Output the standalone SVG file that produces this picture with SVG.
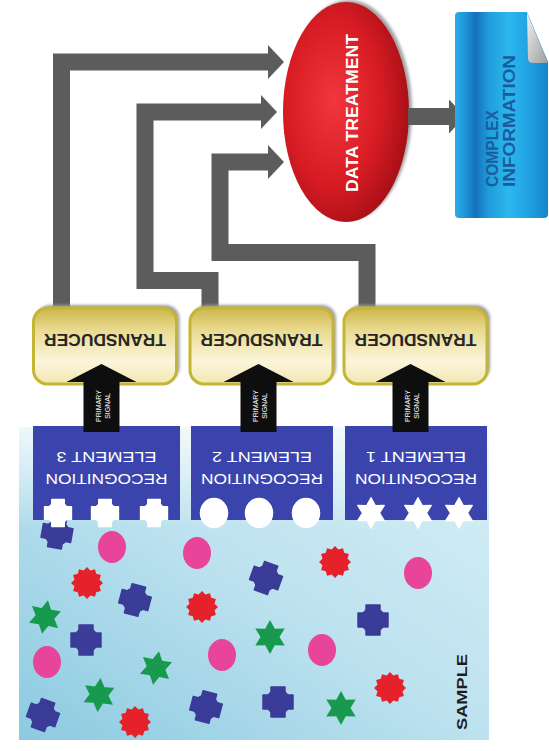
<svg xmlns="http://www.w3.org/2000/svg" width="549" height="751" viewBox="0 0 549 751">
  <defs>
    <style>
      .lbl { font-family: "Liberation Sans", Arial, sans-serif; }
      .conn { fill: none; stroke: #5c5c5c; stroke-width: 17; stroke-linejoin: miter; marker-end: url(#grayHead); }
      .trans-box { fill: url(#transGrad); stroke: #c4b634; stroke-width: 3; }
      .trans-shadow { fill: #9d9d9d; filter: url(#soft); }
      .trans-txt { font-size: 17px; font-weight: bold; fill: #262626; }
      .rec-txt { font-size: 15px; fill: #ffffff; }
      .rec-box { fill: #3b44ad; }
      .sig { fill: #0e0e0e; }
      .sig-txt { font-size: 7px; fill: #ffffff; }
      .mol-blue { fill: #3b3b98; stroke: #3b3b98; stroke-width: 1.5; stroke-linejoin: round; }
      .mol-red { fill: #e5222b; }
      .mol-green { fill: #189a4e; }
      .mol-pink { fill: #e8459a; }
      .site { fill: #ffffff; stroke: #ffffff; stroke-width: 1.5; stroke-linejoin: round; }
    </style>
    <linearGradient id="sampleGrad" x1="0" y1="1" x2="1" y2="0">
      <stop offset="0" stop-color="#8ccae1"/>
      <stop offset="0.5" stop-color="#bde2ef"/>
      <stop offset="1" stop-color="#d6eff6"/>
    </linearGradient>
    <linearGradient id="sampleTop" x1="0" y1="0" x2="0" y2="1">
      <stop offset="0" stop-color="#ffffff" stop-opacity="0.75"/>
      <stop offset="1" stop-color="#ffffff" stop-opacity="0"/>
    </linearGradient>
    <linearGradient id="transGrad" x1="0" y1="0" x2="0" y2="1">
      <stop offset="0" stop-color="#cdb64a"/>
      <stop offset="0.3" stop-color="#eadb92"/>
      <stop offset="0.7" stop-color="#fbf5dc"/>
      <stop offset="1" stop-color="#f2e6b0"/>
    </linearGradient>
    <radialGradient id="redGrad" cx="0.4" cy="0.45" r="0.62">
      <stop offset="0" stop-color="#f2363e"/>
      <stop offset="0.6" stop-color="#d81c24"/>
      <stop offset="1" stop-color="#a60f16"/>
    </radialGradient>
    <linearGradient id="docGrad" x1="0" y1="0" x2="1" y2="0">
      <stop offset="0" stop-color="#29b0e8"/>
      <stop offset="0.12" stop-color="#1d92d4"/>
      <stop offset="0.22" stop-color="#1770bc"/>
      <stop offset="0.36" stop-color="#1f9cda"/>
      <stop offset="0.58" stop-color="#2cb8ee"/>
      <stop offset="0.82" stop-color="#1f9ede"/>
      <stop offset="1" stop-color="#1684cc"/>
    </linearGradient>
    <linearGradient id="foldGrad" x1="0" y1="0" x2="1" y2="1">
      <stop offset="0" stop-color="#f2f2f2"/>
      <stop offset="1" stop-color="#9c9c9c"/>
    </linearGradient>
    <filter id="soft" x="-20%" y="-20%" width="140%" height="140%">
      <feGaussianBlur stdDeviation="1.5"/>
    </filter>
    <marker id="grayHead" markerUnits="userSpaceOnUse" viewBox="0 0 16 34" markerWidth="16" markerHeight="34" refX="0" refY="17" orient="auto">
      <path d="M0,0 L16,17 L0,34 Z" fill="#5c5c5c"/>
    </marker>
    <!-- molecule and binding-site shapes, centred on 0,0 -->
    <g id="cog">
      <path d="M-7,-15H7V-7H15V7H7V15H-7V7H-15V-7H-7Z"/>
      <circle r="12"/>
    </g>
    <path id="burst" d="M16,0 L12.56,3.36 L13.86,8 L9.19,9.19 L8,13.86 L3.36,12.56 L0,16 L-3.36,12.56 L-8,13.86 L-9.19,9.19 L-13.86,8 L-12.56,3.36 L-16,0 L-12.56,-3.36 L-13.86,-8 L-9.19,-9.19 L-8,-13.86 L-3.36,-12.56 L0,-16 L3.36,-12.56 L8,-13.86 L9.19,-9.19 L13.86,-8 L12.56,-3.36 Z"/>
    <path id="star6" d="M0,-17 L4.75,-8.23 L14.72,-8.5 L9.5,0 L14.72,8.5 L4.75,8.23 L0,17 L-4.75,8.23 L-14.72,8.5 L-9.5,0 L-14.72,-8.5 L-4.75,-8.23 Z"/>
    <path id="signalArrow" d="M-18,68 V18 H-35 L0,0 L35,18 H18 V68 Z"/>
  </defs>

  <!-- sample solution with analytes -->
  <g id="sample">
    <rect x="19" y="427" width="470" height="313" fill="url(#sampleGrad)"/>
    <rect x="19" y="427" width="470" height="100" fill="url(#sampleTop)"/>
    <use href="#cog" class="mol-blue" transform="translate(57,533) rotate(10)"/>
    <ellipse class="mol-pink" cx="112" cy="547" rx="14" ry="16"/>
    <ellipse class="mol-pink" cx="197" cy="553" rx="14" ry="16"/>
    <use href="#burst" class="mol-red" transform="translate(335,562)"/>
    <ellipse class="mol-pink" cx="418" cy="573" rx="14" ry="16"/>
    <use href="#burst" class="mol-red" transform="translate(87,583)"/>
    <use href="#cog" class="mol-blue" transform="translate(266,578) rotate(20)"/>
    <use href="#cog" class="mol-blue" transform="translate(135,600) rotate(15)"/>
    <use href="#burst" class="mol-red" transform="translate(202,607)"/>
    <use href="#star6" class="mol-green" transform="translate(45,617) rotate(10)"/>
    <use href="#cog" class="mol-blue" transform="translate(373,620)"/>
    <use href="#cog" class="mol-blue" transform="translate(86,640)"/>
    <use href="#star6" class="mol-green" transform="translate(270,637)"/>
    <ellipse class="mol-pink" cx="47" cy="662" rx="14" ry="16"/>
    <ellipse class="mol-pink" cx="222" cy="655" rx="14" ry="16"/>
    <ellipse class="mol-pink" cx="322" cy="650" rx="14" ry="16"/>
    <use href="#star6" class="mol-green" transform="translate(156,668) rotate(10)"/>
    <use href="#star6" class="mol-green" transform="translate(99,695) rotate(5)"/>
    <use href="#burst" class="mol-red" transform="translate(390,688)"/>
    <use href="#cog" class="mol-blue" transform="translate(206,707) rotate(15)"/>
    <use href="#cog" class="mol-blue" transform="translate(278,702)"/>
    <use href="#star6" class="mol-green" transform="translate(341,708)"/>
    <use href="#cog" class="mol-blue" transform="translate(43,715) rotate(20)"/>
    <use href="#burst" class="mol-red" transform="translate(135,722)"/>
    <text class="lbl" x="0" y="0" transform="translate(467,730) rotate(-90)" font-size="15" font-weight="bold" fill="#1e1e1e" textLength="76" lengthAdjust="spacingAndGlyphs">SAMPLE</text>
  </g>

  <!-- recognition elements with their binding sites -->
  <g id="recognition-3">
    <rect class="rec-box" x="33" y="426" width="147" height="94"/>
    <text class="lbl rec-txt" x="106.5" y="457" text-anchor="middle" dominant-baseline="central" textLength="100" lengthAdjust="spacingAndGlyphs" transform="rotate(180 106.5 457)">ELEMENT 3</text>
    <text class="lbl rec-txt" x="106.5" y="479" text-anchor="middle" dominant-baseline="central" textLength="122" lengthAdjust="spacingAndGlyphs" transform="rotate(180 106.5 479)">RECOGNITION</text>
    <use href="#cog" class="site" transform="translate(58,513) scale(0.9)"/>
    <use href="#cog" class="site" transform="translate(105,513) scale(0.9)"/>
    <use href="#cog" class="site" transform="translate(154,513) scale(0.9)"/>
  </g>
  <g id="recognition-2">
    <rect class="rec-box" x="191" y="426" width="142" height="94"/>
    <text class="lbl rec-txt" x="262" y="457" text-anchor="middle" dominant-baseline="central" textLength="100" lengthAdjust="spacingAndGlyphs" transform="rotate(180 262 457)">ELEMENT 2</text>
    <text class="lbl rec-txt" x="262" y="479" text-anchor="middle" dominant-baseline="central" textLength="122" lengthAdjust="spacingAndGlyphs" transform="rotate(180 262 479)">RECOGNITION</text>
    <ellipse class="site" cx="214" cy="513" rx="13.5" ry="14.5"/>
    <ellipse class="site" cx="259" cy="513" rx="13.5" ry="14.5"/>
    <ellipse class="site" cx="306" cy="513" rx="13.5" ry="14.5"/>
  </g>
  <g id="recognition-1">
    <rect class="rec-box" x="345" y="426" width="142" height="94"/>
    <text class="lbl rec-txt" x="416" y="457" text-anchor="middle" dominant-baseline="central" textLength="100" lengthAdjust="spacingAndGlyphs" transform="rotate(180 416 457)">ELEMENT 1</text>
    <text class="lbl rec-txt" x="416" y="479" text-anchor="middle" dominant-baseline="central" textLength="122" lengthAdjust="spacingAndGlyphs" transform="rotate(180 416 479)">RECOGNITION</text>
    <use href="#star6" class="site" transform="translate(371,513) scale(0.9)"/>
    <use href="#star6" class="site" transform="translate(418,513) scale(0.9)"/>
    <use href="#star6" class="site" transform="translate(459,513) scale(0.9)"/>
  </g>

  <!-- transducer outputs routed to data treatment -->
  <g id="connectors">
    <polyline class="conn" points="61.5,309 61.5,62 268,62"/>
    <polyline class="conn" points="210,309 210,280.5 145,280.5 145,112 261,112"/>
    <polyline class="conn" points="367,309 367,252.5 220,252.5 220,162 268,162"/>
  </g>

  <!-- transducers -->
  <g id="transducer-3">
    <rect class="trans-shadow" x="36.5" y="305" width="143" height="76" rx="14"/>
    <rect class="trans-box" x="33.5" y="308" width="143" height="76" rx="14"/>
    <text class="lbl trans-txt" x="105" y="339" text-anchor="middle" dominant-baseline="central" textLength="122" lengthAdjust="spacingAndGlyphs" transform="rotate(180 105 339)">TRANSDUCER</text>
  </g>
  <g id="transducer-2">
    <rect class="trans-shadow" x="193" y="305" width="143" height="76" rx="14"/>
    <rect class="trans-box" x="190" y="308" width="143" height="76" rx="14"/>
    <text class="lbl trans-txt" x="261.5" y="339" text-anchor="middle" dominant-baseline="central" textLength="122" lengthAdjust="spacingAndGlyphs" transform="rotate(180 261.5 339)">TRANSDUCER</text>
  </g>
  <g id="transducer-1">
    <rect class="trans-shadow" x="347" y="305" width="143" height="76" rx="14"/>
    <rect class="trans-box" x="344" y="308" width="143" height="76" rx="14"/>
    <text class="lbl trans-txt" x="415.5" y="339" text-anchor="middle" dominant-baseline="central" textLength="122" lengthAdjust="spacingAndGlyphs" transform="rotate(180 415.5 339)">TRANSDUCER</text>
  </g>

  <!-- primary signal arrows from recognition elements to transducers -->
  <g id="primary-signals">
    <g transform="translate(101.5,364)">
      <use href="#signalArrow" class="sig"/>
      <text class="lbl sig-txt" transform="translate(-1,42) rotate(-90)" text-anchor="middle">PRIMARY</text>
      <text class="lbl sig-txt" transform="translate(8,42) rotate(-90)" text-anchor="middle">SIGNAL</text>
    </g>
    <g transform="translate(258.5,364)">
      <use href="#signalArrow" class="sig"/>
      <text class="lbl sig-txt" transform="translate(-1,42) rotate(-90)" text-anchor="middle">PRIMARY</text>
      <text class="lbl sig-txt" transform="translate(8,42) rotate(-90)" text-anchor="middle">SIGNAL</text>
    </g>
    <g transform="translate(410.5,364)">
      <use href="#signalArrow" class="sig"/>
      <text class="lbl sig-txt" transform="translate(-1,42) rotate(-90)" text-anchor="middle">PRIMARY</text>
      <text class="lbl sig-txt" transform="translate(8,42) rotate(-90)" text-anchor="middle">SIGNAL</text>
    </g>
  </g>

  <!-- data treatment -->
  <g id="data-treatment">
    <ellipse cx="349" cy="110" rx="63" ry="110" fill="#a3a3a3" filter="url(#soft)"/>
    <ellipse cx="346" cy="112" rx="63" ry="110" fill="url(#redGrad)"/>
    <text class="lbl" x="0" y="0" transform="translate(358,113) rotate(-90)" text-anchor="middle" font-size="17" font-weight="bold" fill="#ffffff" textLength="158" lengthAdjust="spacingAndGlyphs">DATA TREATMENT</text>
  </g>

  <g id="output-connector">
    <line x1="408" y1="116.5" x2="449" y2="116.5" stroke="#5c5c5c" stroke-width="17" marker-end="url(#grayHead)"/>
  </g>

  <!-- resulting information sheet -->
  <g id="complex-information">
    <path d="M459,12 H527 L548,62 V214 Q548,218 544,218 H459 Q455,218 455,214 V16 Q455,12 459,12 Z" fill="url(#docGrad)"/>
    <path d="M527,13 L548,63 H533 Q528,63 528,58 Z" fill="url(#foldGrad)"/>
    <text class="lbl" transform="translate(498,187) rotate(-90)" font-size="16" font-weight="bold" fill="#1b5c9e" textLength="77" lengthAdjust="spacingAndGlyphs">COMPLEX</text>
    <text class="lbl" transform="translate(515,187) rotate(-90)" font-size="16" font-weight="bold" fill="#1b5c9e" textLength="132" lengthAdjust="spacingAndGlyphs">INFORMATION</text>
  </g>
</svg>
